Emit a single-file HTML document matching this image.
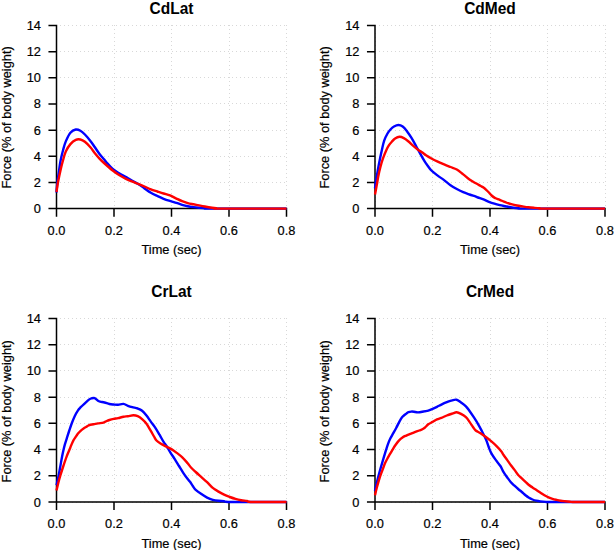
<!DOCTYPE html>
<html><head><meta charset="utf-8"><style>
html,body{margin:0;padding:0;background:#fff;}
svg{display:block;}
text{font-family:"Liberation Sans",sans-serif;font-size:12.8px;fill:#000;stroke:#000;stroke-width:0.2px;}
</style></head><body>
<svg width="615" height="550" viewBox="0 0 615 550">
<rect width="615" height="550" fill="#fff"/>
<path d="M56.50 25V208.60M114.50 25V208.60M171.50 25V208.60M229.50 25V208.60M286.50 25V208.60M56 208.50H286.50M56 182.50H286.50M56 156.50H286.50M56 130.50H286.50M56 103.50H286.50M56 77.50H286.50M56 51.50H286.50M56 25.50H286.50" stroke="#d8d8d8" stroke-width="1" stroke-dasharray="1 3" fill="none"/>
<path d="M56.50 208.60V25.50M49.20 208.60H56.50M49.20 182.44H56.50M49.20 156.29H56.50M49.20 130.13H56.50M49.20 103.97H56.50M49.20 77.81H56.50M49.20 51.66H56.50M49.20 25.50H56.50M56.50 208.60H286.50M56.50 208.60V215.90M114.00 208.60V215.90M171.50 208.60V215.90M229.00 208.60V215.90M286.50 208.60V215.90" stroke="#000" stroke-width="1.5" stroke-linecap="square" fill="none"/>
<text x="40.90" y="213.10" text-anchor="end">0</text>
<text x="40.90" y="186.94" text-anchor="end">2</text>
<text x="40.90" y="160.79" text-anchor="end">4</text>
<text x="40.90" y="134.63" text-anchor="end">6</text>
<text x="40.90" y="108.47" text-anchor="end">8</text>
<text x="40.90" y="82.31" text-anchor="end">10</text>
<text x="40.90" y="56.16" text-anchor="end">12</text>
<text x="40.90" y="30.00" text-anchor="end">14</text>
<text x="56.50" y="234.50" text-anchor="middle">0.0</text>
<text x="114.00" y="234.50" text-anchor="middle">0.2</text>
<text x="171.50" y="234.50" text-anchor="middle">0.4</text>
<text x="229.00" y="234.50" text-anchor="middle">0.6</text>
<text x="286.50" y="234.50" text-anchor="middle">0.8</text>
<text x="171.50" y="254.40" text-anchor="middle">Time (sec)</text>
<text transform="translate(10.90 117.40) rotate(-90)" text-anchor="middle">Force (% of body weight)</text>
<text transform="translate(171.50 13.70) scale(1 1.045)" text-anchor="middle" style="font-weight:bold;font-size:15.5px;stroke:none">CdLat</text>
<path d="M56.50 192.50 C56.65 190.80 56.90 186.50 57.40 182.30 C57.90 178.10 58.95 171.02 59.50 167.30 C60.05 163.58 60.10 162.88 60.70 160.00 C61.30 157.12 62.25 153.10 63.10 150.00 C63.95 146.90 64.58 144.28 65.80 141.40 C67.02 138.52 68.73 134.68 70.40 132.70 C72.07 130.72 74.13 129.83 75.80 129.50 C77.47 129.17 78.88 129.87 80.40 130.70 C81.92 131.53 83.23 132.80 84.90 134.50 C86.57 136.20 88.73 138.77 90.40 140.90 C92.07 143.03 93.35 145.08 94.90 147.30 C96.45 149.52 98.18 152.20 99.70 154.20 C101.22 156.20 102.88 157.95 104.00 159.30 C105.12 160.65 104.95 160.68 106.40 162.30 C107.85 163.92 110.58 167.17 112.70 169.00 C114.82 170.83 116.97 171.98 119.10 173.30 C121.23 174.62 123.38 175.70 125.50 176.90 C127.62 178.10 129.68 179.33 131.80 180.50 C133.92 181.67 136.08 182.58 138.20 183.90 C140.32 185.22 142.38 186.92 144.50 188.40 C146.62 189.88 148.77 191.53 150.90 192.80 C153.03 194.07 155.18 195.00 157.30 196.00 C159.42 197.00 161.37 197.93 163.60 198.80 C165.83 199.67 168.57 200.52 170.70 201.20 C172.83 201.88 174.50 202.30 176.40 202.90 C178.30 203.50 180.20 204.25 182.10 204.80 C184.00 205.35 185.90 205.82 187.80 206.20 C189.70 206.58 191.62 206.85 193.50 207.10 C195.38 207.35 197.22 207.53 199.10 207.70 C200.98 207.87 202.65 207.95 204.80 208.10 C206.95 208.25 198.38 208.52 212.00 208.60 C225.62 208.68 274.08 208.60 286.50 208.60" stroke="#0000ff" stroke-width="2.4" fill="none" stroke-linejoin="round" stroke-linecap="butt"/>
<path d="M56.50 192.00 C56.75 190.38 57.28 186.13 58.00 182.30 C58.72 178.47 59.95 172.72 60.80 169.00 C61.65 165.28 62.27 162.93 63.10 160.00 C63.93 157.07 64.58 154.05 65.80 151.40 C67.02 148.75 68.73 146.03 70.40 144.10 C72.07 142.17 74.13 140.57 75.80 139.80 C77.47 139.03 78.88 139.17 80.40 139.50 C81.92 139.83 83.23 140.50 84.90 141.80 C86.57 143.10 88.73 145.40 90.40 147.30 C92.07 149.20 93.38 151.32 94.90 153.20 C96.42 155.08 97.98 156.97 99.50 158.60 C101.02 160.23 101.80 161.02 104.00 163.00 C106.20 164.98 110.18 168.50 112.70 170.50 C115.22 172.50 116.97 173.65 119.10 175.00 C121.23 176.35 123.38 177.53 125.50 178.60 C127.62 179.67 129.68 180.52 131.80 181.40 C133.92 182.28 136.08 183.05 138.20 183.90 C140.32 184.75 142.38 185.58 144.50 186.50 C146.62 187.42 148.77 188.57 150.90 189.40 C153.03 190.23 155.18 190.82 157.30 191.50 C159.42 192.18 161.48 192.85 163.60 193.50 C165.72 194.15 167.87 194.55 170.00 195.40 C172.13 196.25 174.38 197.63 176.40 198.60 C178.42 199.57 180.20 200.45 182.10 201.20 C184.00 201.95 185.90 202.58 187.80 203.10 C189.70 203.62 191.62 203.92 193.50 204.30 C195.38 204.68 197.22 205.03 199.10 205.40 C200.98 205.77 202.90 206.15 204.80 206.50 C206.70 206.85 208.60 207.23 210.50 207.50 C212.40 207.77 214.62 207.92 216.20 208.10 C217.78 208.28 208.28 208.52 220.00 208.60 C231.72 208.68 275.42 208.60 286.50 208.60" stroke="#ff0000" stroke-width="2.4" fill="none" stroke-linejoin="round" stroke-linecap="butt"/>
<path d="M375.50 25V208.60M432.50 25V208.60M490.50 25V208.60M547.50 25V208.60M605.50 25V208.60M375 208.50H605.00M375 182.50H605.00M375 156.50H605.00M375 130.50H605.00M375 103.50H605.00M375 77.50H605.00M375 51.50H605.00M375 25.50H605.00" stroke="#d8d8d8" stroke-width="1" stroke-dasharray="1 3" fill="none"/>
<path d="M375.00 208.60V25.50M367.70 208.60H375.00M367.70 182.44H375.00M367.70 156.29H375.00M367.70 130.13H375.00M367.70 103.97H375.00M367.70 77.81H375.00M367.70 51.66H375.00M367.70 25.50H375.00M375.00 208.60H605.00M375.00 208.60V215.90M432.50 208.60V215.90M490.00 208.60V215.90M547.50 208.60V215.90M605.00 208.60V215.90" stroke="#000" stroke-width="1.5" stroke-linecap="square" fill="none"/>
<text x="359.40" y="213.10" text-anchor="end">0</text>
<text x="359.40" y="186.94" text-anchor="end">2</text>
<text x="359.40" y="160.79" text-anchor="end">4</text>
<text x="359.40" y="134.63" text-anchor="end">6</text>
<text x="359.40" y="108.47" text-anchor="end">8</text>
<text x="359.40" y="82.31" text-anchor="end">10</text>
<text x="359.40" y="56.16" text-anchor="end">12</text>
<text x="359.40" y="30.00" text-anchor="end">14</text>
<text x="375.00" y="234.50" text-anchor="middle">0.0</text>
<text x="432.50" y="234.50" text-anchor="middle">0.2</text>
<text x="490.00" y="234.50" text-anchor="middle">0.4</text>
<text x="547.50" y="234.50" text-anchor="middle">0.6</text>
<text x="605.00" y="234.50" text-anchor="middle">0.8</text>
<text x="490.00" y="254.40" text-anchor="middle">Time (sec)</text>
<text transform="translate(329.40 117.40) rotate(-90)" text-anchor="middle">Force (% of body weight)</text>
<text transform="translate(490.00 13.70) scale(1 1.045)" text-anchor="middle" style="font-weight:bold;font-size:15.5px;stroke:none">CdMed</text>
<path d="M375.00 188.50 C375.12 187.47 375.40 184.35 375.70 182.30 C376.00 180.25 376.37 178.67 376.80 176.20 C377.23 173.73 377.77 170.42 378.30 167.50 C378.83 164.58 379.38 161.70 380.00 158.70 C380.62 155.70 381.30 152.52 382.00 149.50 C382.70 146.48 383.28 143.27 384.20 140.60 C385.12 137.93 386.42 135.40 387.50 133.50 C388.58 131.60 389.62 130.37 390.70 129.20 C391.78 128.03 392.72 127.20 394.00 126.50 C395.28 125.80 396.95 125.00 398.40 125.00 C399.85 125.00 401.25 125.43 402.70 126.50 C404.15 127.57 405.63 129.50 407.10 131.40 C408.57 133.30 410.05 135.55 411.50 137.90 C412.95 140.25 414.35 142.87 415.80 145.50 C417.25 148.13 418.75 151.08 420.20 153.70 C421.65 156.32 423.28 159.23 424.50 161.20 C425.72 163.17 426.35 163.95 427.50 165.50 C428.65 167.05 429.70 168.82 431.40 170.50 C433.10 172.18 435.58 174.00 437.70 175.60 C439.82 177.20 441.97 178.50 444.10 180.10 C446.23 181.70 448.38 183.72 450.50 185.20 C452.62 186.68 454.68 187.83 456.80 189.00 C458.92 190.17 461.08 191.28 463.20 192.20 C465.32 193.12 467.38 193.77 469.50 194.50 C471.62 195.23 474.48 196.10 475.90 196.60 C477.32 197.10 476.73 197.03 478.00 197.50 C479.27 197.97 481.68 198.68 483.50 199.40 C485.32 200.12 487.08 201.08 488.90 201.80 C490.72 202.52 492.58 203.15 494.40 203.70 C496.22 204.25 497.98 204.68 499.80 205.10 C501.62 205.52 503.93 205.93 505.30 206.20 C506.67 206.47 506.63 206.43 508.00 206.70 C509.37 206.97 511.65 207.53 513.50 207.80 C515.35 208.07 517.02 208.17 519.10 208.30 C521.18 208.43 511.68 208.55 526.00 208.60 C540.32 208.65 591.83 208.60 605.00 208.60" stroke="#0000ff" stroke-width="2.4" fill="none" stroke-linejoin="round" stroke-linecap="butt"/>
<path d="M375.00 194.50 C375.30 192.90 376.25 187.95 376.80 184.90 C377.35 181.85 377.72 179.10 378.30 176.20 C378.88 173.30 379.53 170.42 380.30 167.50 C381.07 164.58 381.88 161.62 382.90 158.70 C383.92 155.78 385.38 152.25 386.40 150.00 C387.42 147.75 388.10 146.58 389.00 145.20 C389.90 143.82 390.78 142.82 391.80 141.70 C392.82 140.58 393.82 139.32 395.10 138.50 C396.38 137.68 398.05 136.87 399.50 136.80 C400.95 136.73 402.35 137.37 403.80 138.10 C405.25 138.83 406.57 139.87 408.20 141.20 C409.83 142.53 411.97 144.68 413.60 146.10 C415.23 147.52 416.53 148.62 418.00 149.70 C419.47 150.78 421.07 151.67 422.40 152.60 C423.73 153.53 424.50 154.32 426.00 155.30 C427.50 156.28 429.45 157.45 431.40 158.50 C433.35 159.55 435.58 160.62 437.70 161.60 C439.82 162.58 441.97 163.50 444.10 164.40 C446.23 165.30 448.38 166.15 450.50 167.00 C452.62 167.85 454.68 168.27 456.80 169.50 C458.92 170.73 461.08 172.73 463.20 174.40 C465.32 176.07 467.38 178.02 469.50 179.50 C471.62 180.98 474.03 182.22 475.90 183.30 C477.77 184.38 479.43 185.28 480.70 186.00 C481.97 186.72 482.58 186.97 483.50 187.60 C484.42 188.23 485.30 188.98 486.20 189.80 C487.10 190.62 488.00 191.55 488.90 192.50 C489.80 193.45 490.68 194.65 491.60 195.50 C492.52 196.35 493.48 197.05 494.40 197.60 C495.32 198.15 496.20 198.42 497.10 198.80 C498.00 199.18 498.90 199.53 499.80 199.90 C500.70 200.27 501.58 200.63 502.50 201.00 C503.42 201.37 504.38 201.73 505.30 202.10 C506.22 202.47 507.02 202.85 508.00 203.20 C508.98 203.55 509.72 203.82 511.20 204.20 C512.68 204.58 515.00 205.13 516.90 205.50 C518.80 205.87 520.72 206.12 522.60 206.40 C524.48 206.68 526.32 206.97 528.20 207.20 C530.08 207.43 532.00 207.62 533.90 207.80 C535.80 207.98 537.75 208.17 539.60 208.30 C541.45 208.43 534.10 208.55 545.00 208.60 C555.90 208.65 595.00 208.60 605.00 208.60" stroke="#ff0000" stroke-width="2.4" fill="none" stroke-linejoin="round" stroke-linecap="butt"/>
<path d="M56.50 318V502.00M114.50 318V502.00M171.50 318V502.00M229.50 318V502.00M286.50 318V502.00M56 502.50H286.50M56 475.50H286.50M56 449.50H286.50M56 423.50H286.50M56 397.50H286.50M56 370.50H286.50M56 344.50H286.50M56 318.50H286.50" stroke="#d8d8d8" stroke-width="1" stroke-dasharray="1 3" fill="none"/>
<path d="M56.50 502.00V318.50M49.20 502.00H56.50M49.20 475.79H56.50M49.20 449.57H56.50M49.20 423.36H56.50M49.20 397.14H56.50M49.20 370.93H56.50M49.20 344.71H56.50M49.20 318.50H56.50M56.50 502.00H286.50M56.50 502.00V509.30M114.00 502.00V509.30M171.50 502.00V509.30M229.00 502.00V509.30M286.50 502.00V509.30" stroke="#000" stroke-width="1.5" stroke-linecap="square" fill="none"/>
<text x="40.90" y="506.50" text-anchor="end">0</text>
<text x="40.90" y="480.29" text-anchor="end">2</text>
<text x="40.90" y="454.07" text-anchor="end">4</text>
<text x="40.90" y="427.86" text-anchor="end">6</text>
<text x="40.90" y="401.64" text-anchor="end">8</text>
<text x="40.90" y="375.43" text-anchor="end">10</text>
<text x="40.90" y="349.21" text-anchor="end">12</text>
<text x="40.90" y="323.00" text-anchor="end">14</text>
<text x="56.50" y="527.90" text-anchor="middle">0.0</text>
<text x="114.00" y="527.90" text-anchor="middle">0.2</text>
<text x="171.50" y="527.90" text-anchor="middle">0.4</text>
<text x="229.00" y="527.90" text-anchor="middle">0.6</text>
<text x="286.50" y="527.90" text-anchor="middle">0.8</text>
<text x="171.50" y="547.80" text-anchor="middle">Time (sec)</text>
<text transform="translate(10.90 411.30) rotate(-90)" text-anchor="middle">Force (% of body weight)</text>
<text transform="translate(171.50 296.60) scale(1 1.045)" text-anchor="middle" style="font-weight:bold;font-size:15.5px;stroke:none">CrLat</text>
<path d="M56.50 485.20 C56.85 483.62 57.97 478.82 58.60 475.70 C59.23 472.58 59.72 469.72 60.30 466.50 C60.88 463.28 61.55 459.25 62.10 456.40 C62.65 453.55 63.13 451.42 63.60 449.40 C64.07 447.38 64.37 446.15 64.90 444.30 C65.43 442.45 66.07 440.60 66.80 438.30 C67.53 436.00 68.48 432.97 69.30 430.50 C70.12 428.03 70.80 425.88 71.70 423.50 C72.60 421.12 73.65 418.40 74.70 416.20 C75.75 414.00 77.00 411.80 78.00 410.30 C79.00 408.80 79.55 408.37 80.70 407.20 C81.85 406.03 83.47 404.60 84.90 403.30 C86.33 402.00 88.20 400.23 89.30 399.40 C90.40 398.57 90.60 398.52 91.50 398.30 C92.40 398.08 93.62 397.68 94.70 398.10 C95.78 398.52 97.08 400.20 98.00 400.80 C98.92 401.40 99.12 401.42 100.20 401.70 C101.28 401.98 102.97 402.12 104.50 402.50 C106.03 402.88 107.87 403.67 109.40 404.00 C110.93 404.33 112.25 404.38 113.70 404.50 C115.15 404.62 116.47 404.80 118.10 404.70 C119.73 404.60 121.87 403.72 123.50 403.90 C125.13 404.08 126.43 405.25 127.90 405.80 C129.37 406.35 130.67 406.75 132.30 407.20 C133.93 407.65 136.07 407.92 137.70 408.50 C139.33 409.08 140.63 409.52 142.10 410.70 C143.57 411.88 145.05 413.78 146.50 415.60 C147.95 417.42 149.35 419.60 150.80 421.60 C152.25 423.60 153.75 425.42 155.20 427.60 C156.65 429.78 158.05 432.23 159.50 434.70 C160.95 437.17 162.73 440.52 163.90 442.40 C165.07 444.28 165.43 444.33 166.50 446.00 C167.57 447.67 168.95 450.25 170.30 452.40 C171.65 454.55 173.15 456.63 174.60 458.90 C176.05 461.17 177.53 463.63 179.00 466.00 C180.47 468.37 181.95 470.92 183.40 473.10 C184.85 475.28 186.60 477.65 187.70 479.10 C188.80 480.55 189.15 480.65 190.00 481.80 C190.85 482.95 191.85 484.67 192.80 486.00 C193.75 487.33 194.27 488.45 195.70 489.80 C197.13 491.15 199.50 492.80 201.40 494.10 C203.30 495.40 205.20 496.65 207.10 497.60 C209.00 498.55 210.90 499.27 212.80 499.80 C214.70 500.33 216.62 500.57 218.50 500.80 C220.38 501.03 221.85 501.00 224.10 501.20 C226.35 501.40 221.60 501.87 232.00 502.00 C242.40 502.13 277.42 502.00 286.50 502.00" stroke="#0000ff" stroke-width="2.4" fill="none" stroke-linejoin="round" stroke-linecap="butt"/>
<path d="M56.50 490.50 C56.85 489.05 57.97 484.27 58.60 481.80 C59.23 479.33 59.53 478.25 60.30 475.70 C61.07 473.15 62.13 469.72 63.20 466.50 C64.27 463.28 65.63 459.25 66.70 456.40 C67.77 453.55 68.85 451.25 69.60 449.40 C70.35 447.55 70.58 446.77 71.20 445.30 C71.82 443.83 72.58 441.95 73.30 440.60 C74.02 439.25 74.72 438.37 75.50 437.20 C76.28 436.03 77.15 434.67 78.00 433.60 C78.85 432.53 79.67 431.67 80.60 430.80 C81.53 429.93 82.53 429.13 83.60 428.40 C84.67 427.67 86.02 426.97 87.00 426.40 C87.98 425.83 88.40 425.35 89.50 425.00 C90.60 424.65 92.18 424.57 93.60 424.30 C95.02 424.03 96.35 423.68 98.00 423.40 C99.65 423.12 102.05 423.00 103.50 422.60 C104.95 422.20 105.72 421.43 106.70 421.00 C107.68 420.57 108.23 420.35 109.40 420.00 C110.57 419.65 112.25 419.22 113.70 418.90 C115.15 418.58 116.47 418.47 118.10 418.10 C119.73 417.73 121.87 417.02 123.50 416.70 C125.13 416.38 126.25 416.43 127.90 416.20 C129.55 415.97 131.77 415.30 133.40 415.30 C135.03 415.30 136.25 415.55 137.70 416.20 C139.15 416.85 140.63 417.93 142.10 419.20 C143.57 420.47 145.05 421.85 146.50 423.80 C147.95 425.75 149.55 428.78 150.80 430.90 C152.05 433.02 153.05 434.90 154.00 436.50 C154.95 438.10 155.42 439.32 156.50 440.50 C157.58 441.68 158.93 442.62 160.50 443.60 C162.07 444.58 164.08 445.48 165.90 446.40 C167.72 447.32 169.58 448.02 171.40 449.10 C173.22 450.18 174.98 451.53 176.80 452.90 C178.62 454.27 180.48 455.57 182.30 457.30 C184.12 459.03 186.25 461.60 187.70 463.30 C189.15 465.00 189.67 466.05 191.00 467.50 C192.33 468.95 193.97 470.40 195.70 472.00 C197.43 473.60 199.50 475.40 201.40 477.10 C203.30 478.80 205.20 480.40 207.10 482.20 C209.00 484.00 210.90 486.33 212.80 487.90 C214.70 489.47 216.62 490.47 218.50 491.60 C220.38 492.73 222.22 493.80 224.10 494.70 C225.98 495.60 227.90 496.30 229.80 497.00 C231.70 497.70 233.60 498.37 235.50 498.90 C237.40 499.43 239.30 499.85 241.20 500.20 C243.10 500.55 245.00 500.70 246.90 501.00 C248.80 501.30 246.00 501.83 252.60 502.00 C259.20 502.17 280.85 502.00 286.50 502.00" stroke="#ff0000" stroke-width="2.4" fill="none" stroke-linejoin="round" stroke-linecap="butt"/>
<path d="M375.50 318V502.00M432.50 318V502.00M490.50 318V502.00M547.50 318V502.00M605.50 318V502.00M375 502.50H605.00M375 475.50H605.00M375 449.50H605.00M375 423.50H605.00M375 397.50H605.00M375 370.50H605.00M375 344.50H605.00M375 318.50H605.00" stroke="#d8d8d8" stroke-width="1" stroke-dasharray="1 3" fill="none"/>
<path d="M375.00 502.00V318.50M367.70 502.00H375.00M367.70 475.79H375.00M367.70 449.57H375.00M367.70 423.36H375.00M367.70 397.14H375.00M367.70 370.93H375.00M367.70 344.71H375.00M367.70 318.50H375.00M375.00 502.00H605.00M375.00 502.00V509.30M432.50 502.00V509.30M490.00 502.00V509.30M547.50 502.00V509.30M605.00 502.00V509.30" stroke="#000" stroke-width="1.5" stroke-linecap="square" fill="none"/>
<text x="359.40" y="506.50" text-anchor="end">0</text>
<text x="359.40" y="480.29" text-anchor="end">2</text>
<text x="359.40" y="454.07" text-anchor="end">4</text>
<text x="359.40" y="427.86" text-anchor="end">6</text>
<text x="359.40" y="401.64" text-anchor="end">8</text>
<text x="359.40" y="375.43" text-anchor="end">10</text>
<text x="359.40" y="349.21" text-anchor="end">12</text>
<text x="359.40" y="323.00" text-anchor="end">14</text>
<text x="375.00" y="527.90" text-anchor="middle">0.0</text>
<text x="432.50" y="527.90" text-anchor="middle">0.2</text>
<text x="490.00" y="527.90" text-anchor="middle">0.4</text>
<text x="547.50" y="527.90" text-anchor="middle">0.6</text>
<text x="605.00" y="527.90" text-anchor="middle">0.8</text>
<text x="490.00" y="547.80" text-anchor="middle">Time (sec)</text>
<text transform="translate(329.40 411.30) rotate(-90)" text-anchor="middle">Force (% of body weight)</text>
<text transform="translate(490.00 296.60) scale(1 1.045)" text-anchor="middle" style="font-weight:bold;font-size:15.5px;stroke:none">CrMed</text>
<path d="M375.00 491.00 C375.37 489.33 376.43 484.20 377.20 481.00 C377.97 477.80 378.78 474.78 379.60 471.80 C380.42 468.82 381.25 466.00 382.10 463.10 C382.95 460.20 383.75 457.48 384.70 454.40 C385.65 451.32 386.87 447.23 387.80 444.60 C388.73 441.97 389.38 440.50 390.30 438.60 C391.22 436.70 392.30 435.02 393.30 433.20 C394.30 431.38 395.05 430.05 396.30 427.70 C397.55 425.35 399.60 421.08 400.80 419.10 C402.00 417.12 402.58 416.72 403.50 415.80 C404.42 414.88 405.47 414.20 406.30 413.60 C407.13 413.00 407.68 412.53 408.50 412.20 C409.32 411.87 410.30 411.68 411.20 411.60 C412.10 411.52 412.77 411.57 413.90 411.70 C415.03 411.83 416.40 412.43 418.00 412.40 C419.60 412.37 422.33 411.70 423.50 411.50 C424.67 411.30 424.20 411.35 425.00 411.20 C425.80 411.05 427.03 411.00 428.30 410.60 C429.57 410.20 431.15 409.43 432.60 408.80 C434.05 408.17 435.53 407.50 437.00 406.80 C438.47 406.10 439.77 405.37 441.40 404.60 C443.03 403.83 445.17 402.87 446.80 402.20 C448.43 401.53 449.57 401.02 451.20 400.60 C452.83 400.18 454.97 399.38 456.60 399.70 C458.23 400.02 459.45 401.40 461.00 402.50 C462.55 403.60 464.45 404.85 465.90 406.30 C467.35 407.75 468.33 409.30 469.70 411.20 C471.07 413.10 472.63 415.43 474.10 417.70 C475.57 419.97 477.23 422.62 478.50 424.80 C479.77 426.98 480.47 428.40 481.70 430.80 C482.93 433.20 484.75 436.53 485.90 439.20 C487.05 441.87 487.68 444.43 488.60 446.80 C489.52 449.17 490.22 451.22 491.40 453.40 C492.58 455.58 494.20 457.80 495.70 459.90 C497.20 462.00 499.08 463.97 500.40 466.00 C501.72 468.03 502.45 470.18 503.60 472.10 C504.75 474.02 506.08 475.80 507.30 477.50 C508.52 479.20 509.70 480.93 510.90 482.30 C512.10 483.67 513.28 484.58 514.50 485.70 C515.72 486.82 516.98 487.95 518.20 489.00 C519.42 490.05 520.58 490.95 521.80 492.00 C523.02 493.05 524.30 494.33 525.50 495.30 C526.70 496.27 527.83 497.10 529.00 497.80 C530.17 498.50 531.28 499.02 532.50 499.50 C533.72 499.98 535.00 500.38 536.30 500.70 C537.60 501.02 538.68 501.20 540.30 501.40 C541.92 501.60 544.05 501.80 546.00 501.90 C547.95 502.00 542.17 501.98 552.00 502.00 C561.83 502.02 596.17 502.00 605.00 502.00" stroke="#0000ff" stroke-width="2.4" fill="none" stroke-linejoin="round" stroke-linecap="butt"/>
<path d="M375.00 495.30 C375.27 494.17 376.05 490.65 376.60 488.50 C377.15 486.35 377.70 484.45 378.30 482.40 C378.90 480.35 379.62 477.97 380.20 476.20 C380.78 474.43 381.27 473.25 381.80 471.80 C382.33 470.35 382.87 468.92 383.40 467.50 C383.93 466.08 384.35 464.77 385.00 463.30 C385.65 461.83 386.48 460.22 387.30 458.70 C388.12 457.18 389.02 455.72 389.90 454.20 C390.78 452.68 391.67 451.13 392.60 449.60 C393.53 448.07 394.45 446.50 395.50 445.00 C396.55 443.50 397.73 441.85 398.90 440.60 C400.07 439.35 401.28 438.33 402.50 437.50 C403.72 436.67 404.87 436.22 406.20 435.60 C407.53 434.98 409.17 434.33 410.50 433.80 C411.83 433.27 412.73 432.95 414.20 432.40 C415.67 431.85 417.93 431.02 419.30 430.50 C420.67 429.98 421.45 429.80 422.40 429.30 C423.35 428.80 424.02 428.33 425.00 427.50 C425.98 426.67 427.03 425.23 428.30 424.30 C429.57 423.37 431.15 422.72 432.60 421.90 C434.05 421.08 435.53 420.07 437.00 419.40 C438.47 418.73 439.77 418.55 441.40 417.90 C443.03 417.25 444.98 416.22 446.80 415.50 C448.62 414.78 450.67 414.13 452.30 413.60 C453.93 413.07 455.15 412.25 456.60 412.30 C458.05 412.35 459.45 413.08 461.00 413.90 C462.55 414.72 464.45 415.83 465.90 417.20 C467.35 418.57 468.52 420.47 469.70 422.10 C470.88 423.73 472.00 425.60 473.00 427.00 C474.00 428.40 474.45 429.47 475.70 430.50 C476.95 431.53 478.80 432.12 480.50 433.20 C482.20 434.28 484.08 435.63 485.90 437.00 C487.72 438.37 489.58 439.85 491.40 441.40 C493.22 442.95 495.17 444.67 496.80 446.30 C498.43 447.93 500.07 449.75 501.20 451.20 C502.33 452.65 502.58 453.52 503.60 455.00 C504.62 456.48 506.08 458.40 507.30 460.10 C508.52 461.80 509.70 463.57 510.90 465.20 C512.10 466.83 513.28 468.27 514.50 469.90 C515.72 471.53 516.98 473.60 518.20 475.00 C519.42 476.40 520.58 477.17 521.80 478.30 C523.02 479.43 524.37 480.72 525.50 481.80 C526.63 482.88 527.43 483.85 528.60 484.80 C529.77 485.75 531.20 486.63 532.50 487.50 C533.80 488.37 535.12 489.17 536.40 490.00 C537.68 490.83 538.87 491.62 540.20 492.50 C541.53 493.38 543.02 494.48 544.40 495.30 C545.78 496.12 547.15 496.80 548.50 497.40 C549.85 498.00 551.15 498.48 552.50 498.90 C553.85 499.32 555.23 499.60 556.60 499.90 C557.97 500.20 559.35 500.48 560.70 500.70 C562.05 500.92 563.15 501.03 564.70 501.20 C566.25 501.37 568.12 501.57 570.00 501.70 C571.88 501.83 570.17 501.95 576.00 502.00 C581.83 502.05 600.17 502.00 605.00 502.00" stroke="#ff0000" stroke-width="2.4" fill="none" stroke-linejoin="round" stroke-linecap="butt"/>
</svg>
</body></html>
